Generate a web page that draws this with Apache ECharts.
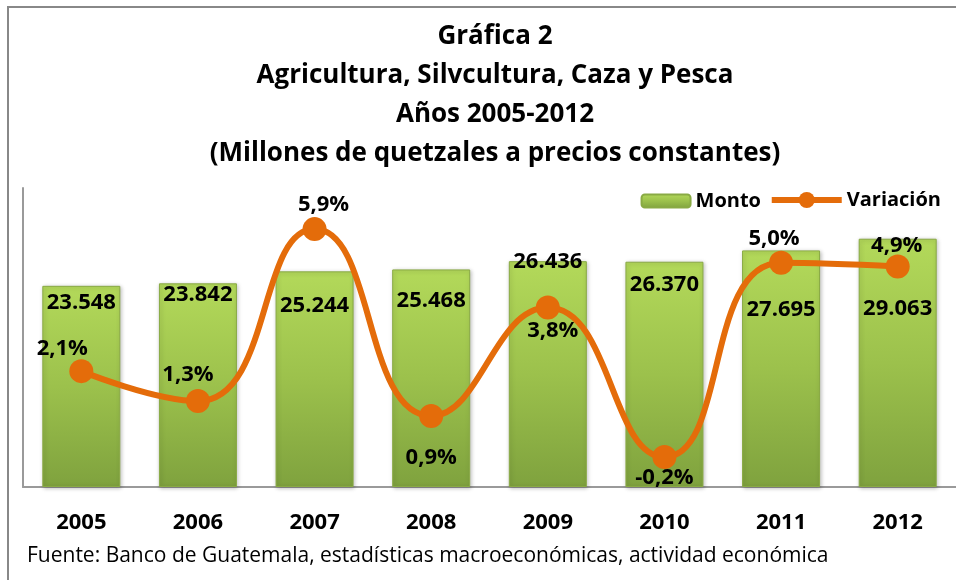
<!DOCTYPE html>
<html>
<head>
<meta charset="utf-8">
<script src="https://cdn.jsdelivr.net/npm/echarts@6/dist/echarts.min.js"></script>
<style>
  html, body { margin: 0; padding: 0; background: #fff; }
  #chart { width: 956px; height: 580px; }
</style>
</head>
<body>
<div id="chart"></div>
<script>
// datos de la gráfica
const years = ['2005', '2006', '2007', '2008', '2009', '2010', '2011', '2012']
const monto = [23548, 23842, 25244, 25468, 26436, 26370, 27695, 29063]
const variacion = [2.1, 1.3, 5.9, 0.9, 3.8, -0.2, 5.0, 4.9]

// ajustes de etiquetas (como en el original, movidas a mano)
const barLabelShift = [1, -5, 18, 15, -15, 7, 43, 54]
const lineLabelPos = ['top', 'top', 'top', 'bottom', 'bottom', 'bottom', 'top', 'top']
const lineLabelShift = [[-19, 4], [-10, 0], [9, 2], [0, 16], [5, -3], [0, -5], [-7, 2], [-1, 5]]

const fontFamily = '"Open Sans", sans-serif'

const fmtMonto = v => {
  const s = String(v)
  return s.slice(0, s.length - 3) + '.' + s.slice(-3)
}
const fmtPct = v => v.toFixed(1).replace('.', ',') + '%'

const chart = echarts.init(document.getElementById('chart'))

const legendText = { fontFamily: fontFamily, fontSize: 20, fontWeight: 'bold', color: '#000' }

const option = {
  animation: false,
  textStyle: { fontFamily: fontFamily },
  title: {
    text: 'Gráfica 2\nAgricultura, Silvcultura, Caza y Pesca\nAños 2005-2012\n(Millones de quetzales a precios constantes)',
    left: 490,
    textAlign: 'center',
    top: 12,
    textStyle: {
      fontFamily: fontFamily,
      fontSize: 26,
      fontWeight: 'bold',
      color: '#000',
      lineHeight: 39
    }
  },
  legend: [
    {
      right: 190,
      top: 186,
      itemWidth: 49,
      itemHeight: 13,
      textStyle: legendText,
      data: ['Monto']
    },
    {
      right: 10,
      top: 185,
      itemWidth: 70,
      itemHeight: 20,
      lineStyle: { width: 6 },
      textStyle: legendText,
      data: ['Variación']
    }
  ],
  grid: {
    left: 23,
    right: 0,
    top: 188,
    bottom: 93
  },
  xAxis: {
    type: 'category',
    data: years,
    axisLine: { lineStyle: { color: '#9a9a9a', width: 2 } },
    axisTick: { show: false },
    axisLabel: {
      margin: 25,
      fontSize: 22,
      fontWeight: 'bold',
      color: '#000',
      fontFamily: fontFamily
    }
  },
  yAxis: [
    {
      type: 'value',
      min: 0,
      max: 35000,
      splitLine: { show: false },
      axisLabel: { show: false },
      axisTick: { show: false },
      axisLine: { show: true, lineStyle: { color: '#9a9a9a', width: 2 } }
    },
    {
      type: 'value',
      min: -1,
      max: 7,
      splitLine: { show: false },
      axisLabel: { show: false },
      axisTick: { show: false },
      axisLine: { show: false }
    }
  ],
  series: [
    {
      name: 'Monto',
      type: 'bar',
      barWidth: 78,
      data: monto.map((v, i) => ({
        value: v,
        label: { offset: [0, barLabelShift[i]] }
      })),
      itemStyle: {
        color: new echarts.graphic.LinearGradient(0, 0, 0, 1, [
          { offset: 0, color: '#b3d95a' },
          { offset: 0.5, color: '#9cc14c' },
          { offset: 1, color: '#7fa23e' }
        ]),
        borderColor: '#89aa44',
        borderWidth: 1,
        shadowColor: 'rgba(0,0,0,0.25)',
        shadowBlur: 4,
        shadowOffsetX: 1,
        shadowOffsetY: 1
      },
      label: {
        show: true,
        position: 'insideTop',
        formatter: p => fmtMonto(p.value),
        fontSize: 22,
        fontWeight: 'bold',
        color: '#000',
        fontFamily: fontFamily
      },
      z: 2
    },
    {
      name: 'Variación',
      type: 'line',
      yAxisIndex: 1,
      smooth: 0.5,
      symbol: 'circle',
      symbolSize: 24,
      data: variacion.map((v, i) => ({
        value: v,
        label: { position: lineLabelPos[i], offset: lineLabelShift[i] }
      })),
      lineStyle: { color: '#e46c0a', width: 6 },
      itemStyle: { color: '#e46c0a' },
      label: {
        show: true,
        distance: 3,
        formatter: p => fmtPct(p.value),
        fontSize: 22,
        fontWeight: 'bold',
        color: '#000',
        fontFamily: fontFamily
      },
      z: 3
    }
  ],
  graphic: [
    {
      type: 'rect',
      shape: { x: 8, y: 7, width: 960, height: 590 },
      style: { fill: 'none', stroke: '#888', lineWidth: 2 },
      silent: true
    },
    {
      type: 'text',
      left: 27,
      top: 546,
      style: {
        text: 'Fuente: Banco de Guatemala, estadísticas macroeconómicas, actividad económica',
        fontFamily: fontFamily,
        fontSize: 21,
        fill: '#000'
      }
    }
  ]
}

chart.setOption(option)
</script>
</body>
</html>
